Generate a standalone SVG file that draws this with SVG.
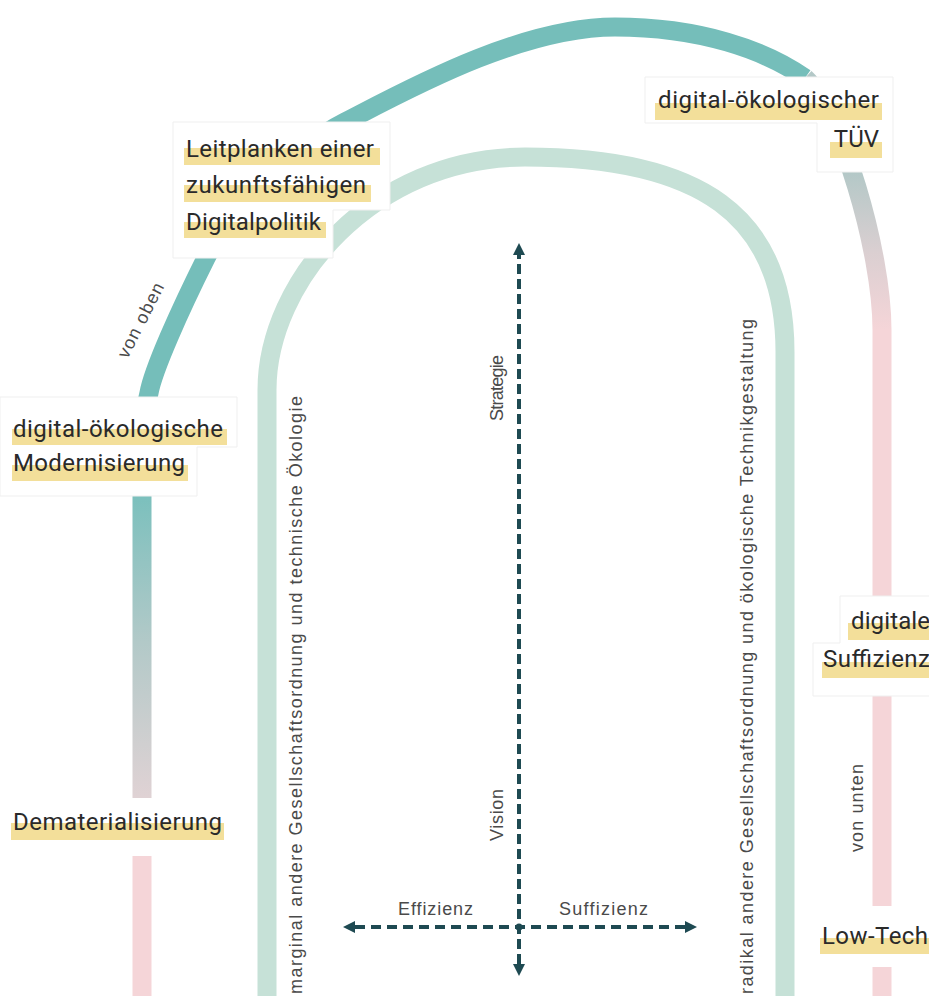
<svg xmlns="http://www.w3.org/2000/svg" width="929" height="996" viewBox="0 0 929 996">
<style>
.band{fill:none;stroke-width:19;stroke-linecap:butt}
.teal{stroke:#75BEBA}
.inner{stroke:#C6E1D7}
.axis{fill:none;stroke:#1E4A52;stroke-width:4}
.box{fill:#ffffff;stroke:#efefef;stroke-width:1}
.gap{fill:#ffffff}
.hl{fill:#F3DF9A}
.lbl{font-family:Roboto,"Liberation Sans",sans-serif;font-size:24px;fill:#2a2a2a}
.small{font-family:"Liberation Sans",Arial,sans-serif;font-size:18px;fill:#4a4a4a}
</style>
<defs>
<linearGradient id="gLeft" gradientUnits="userSpaceOnUse" x1="0" y1="498" x2="0" y2="857">
<stop offset="0" stop-color="#7CC0BD"/>
<stop offset="0.4" stop-color="#B2C9C8"/>
<stop offset="0.83" stop-color="#DFD2D4"/>
<stop offset="1" stop-color="#F5D5D8"/>
</linearGradient>
<linearGradient id="gRight" gradientUnits="userSpaceOnUse" x1="0" y1="172" x2="0" y2="330">
<stop offset="0" stop-color="#B3C8C7"/>
<stop offset="0.5" stop-color="#DACFD1"/>
<stop offset="1" stop-color="#F5D5D8"/>
</linearGradient>
<marker id="arrow" viewBox="0 0 10 10" refX="0" refY="5" markerWidth="12" markerHeight="12" markerUnits="userSpaceOnUse" orient="auto-start-reverse">
<path d="M0,0 L10,5 L0,10 z" fill="#1E4A52"/>
</marker>
</defs>
<rect width="929" height="996" fill="#ffffff"/>

<g id="connectors">
<path class="band" stroke="url(#gLeft)" d="M142,996 L142,450"/>
<path class="band teal" d="M142,452 C142,425 145,410 149,393 C153,370 180,310 206,258 C226,218 290,150 345,122 C405,91 520,27 615,27 C700,27 765,50 805,78"/>
<path class="band" stroke="url(#gRight)" d="M805,78 C840,111 882,250 882,330 L882,996"/>
<path class="band inner" d="M267,996 L267,390 C267,282 372,157 525,157 C700,157 785,215 785,352 L785,996"/>
<line class="axis" x1="519" y1="964" x2="519" y2="255" stroke-dasharray="10 5" marker-start="url(#arrow)" marker-end="url(#arrow)"/>
<line class="axis" x1="355" y1="927" x2="685" y2="927" stroke-dasharray="10 6" marker-start="url(#arrow)" marker-end="url(#arrow)"/>
<circle cx="519" cy="927" r="3.5" fill="#1E4A52"/>
</g>

<g id="axis-labels">
<text class="small" transform="translate(503,388) rotate(-90)" text-anchor="middle" textLength="66">Strategie</text>
<text class="small" transform="translate(503,815) rotate(-90)" text-anchor="middle" textLength="52">Vision</text>
<text class="small" x="398" y="915" textLength="75">Effizienz</text>
<text class="small" x="559" y="915" textLength="89">Suffizienz</text>
<text class="small" transform="translate(302,994) rotate(-90)" textLength="598">marginal andere Gesellschaftsordnung und technische Ökologie</text>
<text class="small" transform="translate(753,994) rotate(-90)" textLength="675">radikal andere Gesellschaftsordnung und ökologische Technikgestaltung</text>
<text class="small" transform="translate(146,323) rotate(-63)" text-anchor="middle" textLength="82">von oben</text>
<text class="small" transform="translate(863,808) rotate(-90)" text-anchor="middle" textLength="88">von unten</text>
</g>

<g id="node-leitplanken">
<path class="box" d="M173,122 H390 V210 H333 V258 H173 Z"/>
<rect class="hl" x="184" y="148" width="196" height="17"/>
<rect class="hl" x="184" y="185" width="187" height="17"/>
<rect class="hl" x="184" y="222" width="142" height="16"/>
<text class="lbl" x="186" y="157" textLength="188">Leitplanken einer</text>
<text class="lbl" x="186" y="193" textLength="180">zukunftsfähigen</text>
<text class="lbl" x="186" y="230" textLength="135">Digitalpolitik</text>
</g>

<g id="node-tuev">
<path class="box" d="M645,77 H893 V172 H817 V123 H645 Z"/>
<rect class="hl" x="655" y="103" width="227" height="17"/>
<rect class="hl" x="830" y="142" width="52" height="16"/>
<text class="lbl" x="658" y="108" textLength="221">digital-ökologischer</text>
<text class="lbl" x="879" y="147" text-anchor="end">TÜV</text>
</g>

<g id="node-modernisierung">
<path class="box" d="M0,397 H237 V447 H197 V496 H0 Z"/>
<rect class="hl" x="12" y="429" width="215" height="16"/>
<rect class="hl" x="12" y="465" width="176" height="16"/>
<text class="lbl" x="13" y="437" textLength="210">digital-ökologische</text>
<text class="lbl" x="13" y="471" textLength="172">Modernisierung</text>
</g>

<g id="node-dematerialisierung">
<rect class="gap" x="0" y="798" width="240" height="58"/>
<rect class="hl" x="11" y="823" width="213" height="17"/>
<text class="lbl" x="13" y="830" textLength="209">Dematerialisierung</text>
</g>

<g id="node-suffizienz">
<path class="box" d="M840,596 H935 V696 H813 V643 H840 Z"/>
<rect class="hl" x="848" y="623" width="81" height="17"/>
<rect class="hl" x="822" y="662" width="107" height="16"/>
<text class="lbl" x="851" y="629" textLength="79">digitale</text>
<text class="lbl" x="823" y="667" textLength="107">Suffizienz</text>
</g>

<g id="node-lowtech">
<rect class="gap" x="810" y="906" width="119" height="61"/>
<rect class="hl" x="820" y="938" width="109" height="16"/>
<text class="lbl" x="822" y="944" textLength="106">Low-Tech</text>
</g>
</svg>
